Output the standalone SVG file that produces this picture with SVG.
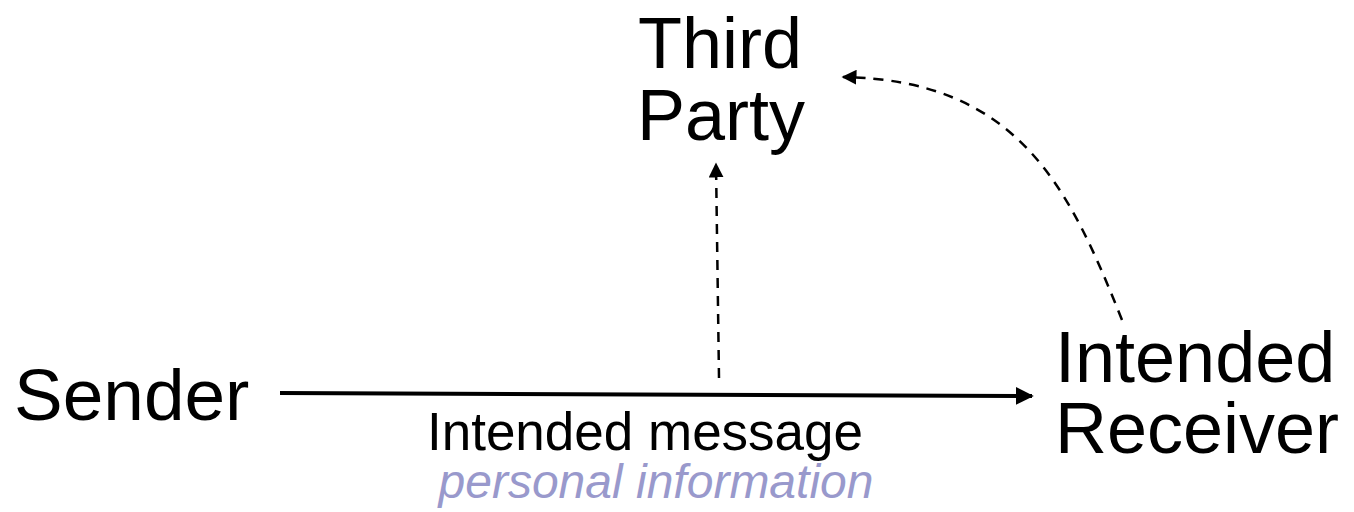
<svg xmlns="http://www.w3.org/2000/svg" width="1354" height="512" viewBox="0 0 1354 512">
<style>
.lbl{font-family:"Liberation Sans",Arial,sans-serif;fill:#000}
.big{font-size:72px}
.dash{fill:none;stroke:#000;stroke-width:2.5;stroke-dasharray:10 8}
</style>
<defs>
<marker id="ah" viewBox="0 0 10 10" refX="9" refY="5" markerWidth="6" markerHeight="6" markerUnits="strokeWidth" orient="auto"><path d="M0,0 L10,5 L0,10 Z" fill="#000"/></marker>
<marker id="ahs" viewBox="0 0 10 10" refX="9" refY="5" markerWidth="4.5" markerHeight="4.5" markerUnits="strokeWidth" orient="auto"><path d="M0,0 L10,5 L0,10 Z" fill="#000"/></marker>
</defs>
<rect width="1354" height="512" fill="#fff"/>
<g id="connectors">
<path d="M280,393 L1032,396" fill="none" stroke="#000" stroke-width="4" marker-end="url(#ahs)"/>
<path class="dash" d="M719,378 L716,164" marker-end="url(#ah)"/>
<path class="dash" d="M1122,320 C1070,190 1020,80 843,77" marker-end="url(#ah)"/>
</g>
<g id="sender"><text class="lbl" x="14" y="420" font-size="73">Sender</text></g>
<g id="third-party"><text class="lbl big" x="720" y="68" text-anchor="middle">Third</text><text class="lbl big" x="721" y="140" text-anchor="middle">Party</text></g>
<g id="receiver"><text class="lbl big" x="1055" y="382">Intended</text><text class="lbl big" x="1055" y="453">Receiver</text></g>
<g id="message-label">
<text class="lbl" x="645" y="450" font-size="53" text-anchor="middle">Intended message</text>
<text x="656" y="498" font-size="48" font-style="italic" text-anchor="middle" font-family="'Liberation Sans',Arial,sans-serif" fill="#9999cc">personal information</text>
</g>
</svg>
